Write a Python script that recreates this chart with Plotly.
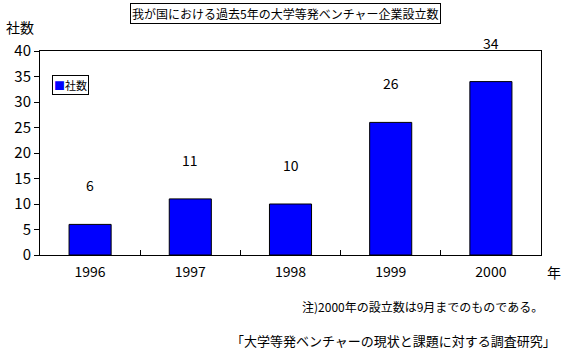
import plotly.graph_objects as go

years = ["1996", "1997", "1998", "1999", "2000"]
counts = [6, 11, 10, 26, 34]
series_name = "社数"
y_ticks = [0, 5, 10, 15, 20, 25, 30, 35, 40]

title_text = "我が国における過去5年の大学等発ベンチャー企業設立数"
note_text = "注)2000年の設立数は9月までのものである。"
source_text = "「大学等発ベンチャーの現状と課題に対する調査研究」"

FONT = "Noto Sans CJK JP"
L, R, T, B = 40, 21, 51, 100
W, H = 562, 355
pw, ph = W - L - R, H - T - B


def px_x(x):
    return (x - L) / pw


def px_y(y):
    return (H - B - y) / ph


fig = go.Figure()
fig.add_trace(go.Bar(
    x=years, y=counts, name=series_name,
    marker=dict(color="#0000FF", line=dict(color="black", width=1)),
    showlegend=False,
))

# value labels above bars (category index positions)
for i, yv in enumerate(counts):
    fig.add_annotation(x=i, y=yv, xref="x", yref="y", text=str(yv),
                       showarrow=False, yanchor="middle", yshift=39,
                       font=dict(family=FONT, size=14, color="black"))

# title box
fig.add_annotation(x=px_x(285), y=px_y(14), xref="paper", yref="paper", text=title_text,
                   showarrow=False, xanchor="center", yanchor="middle",
                   bordercolor="black", borderwidth=1, borderpad=1,
                   font=dict(family=FONT, size=12, color="black"))
# y-axis unit
fig.add_annotation(x=px_x(4), y=px_y(27), xref="paper", yref="paper", text="社数",
                   showarrow=False, xanchor="left", yanchor="middle",
                   font=dict(family=FONT, size=14, color="black"))
# x-axis unit
fig.add_annotation(x=px_x(545), y=px_y(272), xref="paper", yref="paper", text="年",
                   showarrow=False, xanchor="left", yanchor="middle",
                   font=dict(family=FONT, size=14, color="black"))
# legend box
fig.add_annotation(x=px_x(52), y=px_y(85), xref="paper", yref="paper",
                   text="<span style='color:#0000FF'>■</span>" + series_name,
                   showarrow=False, xanchor="left", yanchor="middle",
                   bordercolor="black", borderwidth=1, borderpad=1, bgcolor="white",
                   font=dict(family=FONT, size=11, color="black"))
# note
fig.add_annotation(x=px_x(545), y=px_y(306), xref="paper", yref="paper", text=note_text,
                   showarrow=False, xanchor="right", yanchor="middle",
                   font=dict(family=FONT, size=12, color="black"))
# source
fig.add_annotation(x=px_x(558), y=px_y(340), xref="paper", yref="paper", text=source_text,
                   showarrow=False, xanchor="right", yanchor="middle",
                   font=dict(family=FONT, size=13, color="black"))

fig.update_layout(
    width=W, height=H,
    margin=dict(l=L, r=R, t=T, b=B, autoexpand=False),
    paper_bgcolor="white", plot_bgcolor="white",
    bargap=0.58,
    font=dict(family=FONT, size=14, color="black"),
)
fig.update_xaxes(
    type="category", categoryorder="array", categoryarray=years,
    range=[-0.5, 4.5],
    showline=True, linecolor="black", linewidth=1, mirror=True,
    ticks="inside", ticklen=5, tickcolor="black", tickson="boundaries",
    showgrid=False, ticklabelstandoff=4,
    tickfont=dict(family=FONT, size=14),
)
fig.update_yaxes(
    range=[0, 40], tickvals=y_ticks,
    showline=True, linecolor="black", linewidth=1, mirror=True,
    ticks="outside", ticklen=5, tickcolor="black",
    showgrid=False, zeroline=False,
    tickfont=dict(family=FONT, size=15),
)

fig.write_html("out.html")
